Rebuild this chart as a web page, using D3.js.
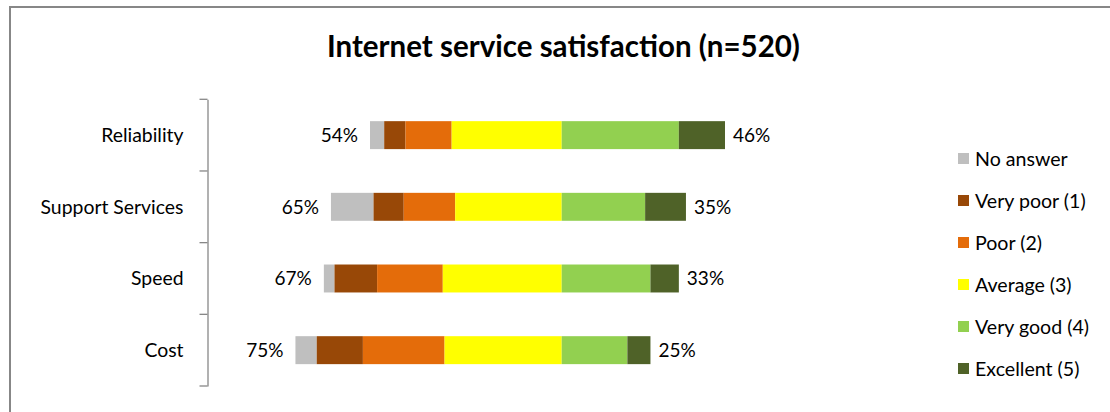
<!DOCTYPE html>
<html>
<head>
<meta charset="utf-8">
<script src="https://cdn.jsdelivr.net/npm/d3@7"></script>
<style>
  html, body { margin: 0; padding: 0; background: #fff; }
  svg { display: block; font-family: Lato, "Open Sans", sans-serif; }
</style>
</head>
<body>
<svg id="chart" width="1110" height="412"></svg>
<script>
// Survey aspects, top to bottom
const categories = ["Reliability", "Support Services", "Speed", "Cost"];

// Response shares (%) per aspect, in stacking order left to right
const noAnswer  = [4.0, 12.0,  3.0,  6.0];
const veryPoor  = [6.0,  8.5, 12.0, 13.0];
const poor      = [13.0, 14.5, 18.5, 23.0];
const average   = [31.0, 30.0, 33.5, 33.0];
const veryGood  = [33.0, 23.5, 25.0, 18.5];
const excellent = [13.0, 11.5,  8.0,  6.5];

// Totals printed at each bar end
const leftLabels  = ["54%", "65%", "67%", "75%"];
const rightLabels = ["46%", "35%", "33%", "25%"];

const seriesNames  = ["No answer", "Very poor (1)", "Poor (2)", "Average (3)", "Very good (4)", "Excellent (5)"];
const seriesValues = [noAnswer, veryPoor, poor, average, veryGood, excellent];
const seriesColors = ["#bfbfbf", "#984807", "#e46c0a", "#ffff00", "#92d050", "#4f6228"];

const titleText = "Internet service satisfaction (n=520)";

const svg = d3.select("#chart");

// chart frame
svg.append("rect")
  .attr("x", 10).attr("y", 7)
  .attr("width", 1120).attr("height", 420)
  .attr("fill", "none")
  .attr("stroke", "#878787")
  .attr("stroke-width", 2);

svg.append("text")
  .attr("x", 563.5).attr("y", 57)
  .attr("text-anchor", "middle")
  .attr("font-weight", "bold")
  .attr("font-size", 29.5)
  .attr("fill", "#000")
  .text(titleText);

// Diverging layout: negatives (no answer .. average) left of zero, positives right
const x = d3.scaleLinear().domain([-100, 100]).range([561.7 - 355, 561.7 + 355]);
const y = d3.scaleBand().domain(categories).range([99.3, 386])
  .paddingInner(0.61).paddingOuter(0.305);
const yAxisScale = d3.scaleBand().domain(categories).range([99.3, 386]).padding(0);

const rows = categories.map((c, i) => {
  const vals = seriesValues.map(s => s[i]);
  const leftTotal = vals[0] + vals[1] + vals[2] + vals[3];
  let start = -leftTotal;
  const segs = vals.map((v, k) => {
    const seg = { cat: c, key: k, x0: start, x1: start + v };
    start += v;
    return seg;
  });
  return { cat: c, i, segs, x0: -leftTotal, x1: start };
});

const barG = svg.append("g");
rows.forEach(r => {
  barG.selectAll(null)
    .data(r.segs)
    .enter().append("rect")
    .attr("x", d => x(d.x0))
    .attr("y", y(r.cat))
    .attr("width", d => x(d.x1) - x(d.x0))
    .attr("height", y.bandwidth())
    .attr("fill", d => seriesColors[d.key]);
});

// value labels at both ends
const labelG = svg.append("g").attr("font-size", 19).attr("fill", "#000");
labelG.selectAll(".lt").data(rows).enter().append("text")
  .attr("x", d => x(d.x0) - 12)
  .attr("y", d => y(d.cat) + y.bandwidth() / 2 + 7)
  .attr("text-anchor", "end")
  .text(d => leftLabels[d.i]);
labelG.selectAll(".rt").data(rows).enter().append("text")
  .attr("x", d => x(d.x1) + 8)
  .attr("y", d => y(d.cat) + y.bandwidth() / 2 + 7)
  .attr("text-anchor", "start")
  .text(d => rightLabels[d.i]);

// category axis with bracket-style ticks at band boundaries
const axisX = 207.5;
const axisG = svg.append("g").attr("transform", `translate(${axisX},0)`);
axisG.call(d3.axisLeft(yAxisScale).tickSize(0).tickPadding(24))
  .call(g => g.select(".domain").attr("stroke", "#878787").attr("stroke-width", 1.3))
  .call(g => g.selectAll(".tick text")
    .attr("font-family", "Lato, 'Open Sans', sans-serif")
    .attr("font-size", 19.4)
    .attr("fill", "#000")
    .attr("dy", "0.36em"));
const boundaries = categories.map(c => yAxisScale(c)).concat([yAxisScale.range()[1]]);
axisG.selectAll(".bound").data(boundaries).enter().append("line")
  .attr("x1", -8).attr("x2", 0)
  .attr("y1", d => d).attr("y2", d => d)
  .attr("stroke", "#878787").attr("stroke-width", 1.3);

// legend
const legend = svg.append("g").attr("transform", "translate(958,159)");
const item = legend.selectAll("g").data(seriesNames).enter().append("g")
  .attr("transform", (d, i) => `translate(0,${i * 42})`);
item.append("rect")
  .attr("x", 0).attr("y", -6).attr("width", 11).attr("height", 11)
  .attr("fill", (d, i) => seriesColors[i]);
item.append("text")
  .attr("x", 17).attr("y", 6.5)
  .attr("font-size", 19.6)
  .attr("fill", "#000")
  .text(d => d);
</script>
</body>
</html>
